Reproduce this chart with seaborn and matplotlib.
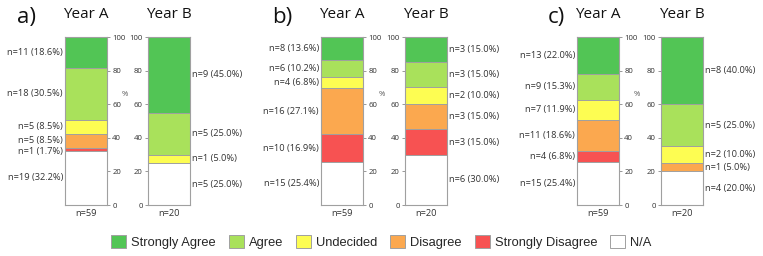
import matplotlib
matplotlib.use("Agg")
import matplotlib.pyplot as plt
import matplotlib.patches as mpatches
import matplotlib.transforms as mtransforms
import seaborn as sns

# ------------------------- DATA -------------------------
categories = ["Strongly Agree", "Agree", "Undecided", "Disagree", "Strongly Disagree", "N/A"]
colors = ["#52c555", "#a9e15b", "#fdfd52", "#fba84f", "#f75252", "#ffffff"]

panel_names = ["a)", "b)", "c)"]
year_names = ["Year A", "Year B"]

# counts per category (same order as categories)
a_year_a = [11, 18, 5, 5, 1, 19]
a_year_b = [9, 5, 1, 0, 0, 5]
b_year_a = [8, 6, 4, 16, 10, 15]
b_year_b = [3, 3, 2, 3, 3, 6]
c_year_a = [13, 9, 7, 11, 4, 15]
c_year_b = [8, 5, 2, 1, 0, 4]

counts = [[a_year_a, a_year_b], [b_year_a, b_year_b], [c_year_a, c_year_b]]

# ------------------------- LAYOUT -------------------------
W, H = 763, 256
bar_left_px = [[65, 148], [321, 405], [577, 661]]
bar_w_px = 42
bar_top_px, bar_bot_px = 37, 205
panel_label_x = [27, 282, 556]
pct_label_x = [125, 382, 637]
min_gap = 6.3  # minimum spacing between segment labels, in %

sns.set_style("white")
plt.rcParams["font.family"] = ["Open Sans", "DejaVu Sans"]

fig = plt.figure(figsize=(W / 100, H / 100), dpi=100)
edge = "#a0a0a0"

for p in range(3):
    for j in range(2):
        vals = counts[p][j]
        n = sum(vals)
        pct = [v / n * 100 for v in vals]
        ax = fig.add_axes([bar_left_px[p][j] / W, 1 - bar_bot_px / H,
                           bar_w_px / W, (bar_bot_px - bar_top_px) / H])
        # stack from the bottom: N/A first, Strongly Agree on top
        order = list(range(len(categories)))[::-1]
        cum = []
        total = 0
        for i in order:
            total += pct[i]
            cum.append((i, total))
        # draw the tallest cumulative bar first so the smaller ones overlay it
        for i, top in cum[::-1]:
            if pct[i] == 0:
                continue
            sns.barplot(x=["bar"], y=[top], color=colors[i], saturation=1,
                        width=1, edgecolor=edge, linewidth=0.7, ax=ax)
        ax.set_xlim(-0.5, 0.5)
        ax.set_ylim(0, 100)
        ax.set_xticks([])
        ax.set_xlabel("")
        ax.set_ylabel("")
        ax.set_yticks([0, 20, 40, 60, 80, 100])
        for s in ax.spines.values():
            s.set_color(edge)
            s.set_linewidth(0.8)
        ax.tick_params(axis="y", length=2.5, width=0.6, color="#888888",
                       labelsize=5.6, labelcolor="#333333", pad=1.2)
        if j == 0:
            ax.yaxis.tick_right()
        else:
            ax.yaxis.tick_left()

        # segment labels, top to bottom, pushed apart if too close
        trans = mtransforms.blended_transform_factory(ax.transAxes, ax.transData)
        prev = None
        for i, top in cum[::-1]:
            if vals[i] == 0:
                continue
            mid = top - pct[i] / 2
            if prev is not None and prev - mid < min_gap:
                mid = prev - min_gap
            prev = mid
            txt = f"n={vals[i]} ({pct[i]:.1f}%)"
            if j == 0:
                ax.text(-0.05, mid, txt, transform=trans, ha="right", va="center",
                        fontsize=6.7, color="#333333")
            else:
                ax.text(1.05, mid, txt, transform=trans, ha="left", va="center",
                        fontsize=6.7, color="#333333")

        ax.text(0.5, 1 + (bar_top_px - 15) / (bar_bot_px - bar_top_px), year_names[j],
                transform=ax.transAxes, ha="center", va="center", fontsize=11,
                color="#111111")
        ax.text(0.5, -(213 - bar_bot_px) / (bar_bot_px - bar_top_px), f"n={n}",
                transform=ax.transAxes, ha="center", va="center", fontsize=6.7,
                color="#333333")

    fig.text(panel_label_x[p] / W, 1 - 17 / H, panel_names[p], ha="center", va="center",
             fontsize=16, color="#111111")
    fig.text(pct_label_x[p] / W, 1 - 95 / H, "%", ha="center", va="center",
             fontsize=5.5, color="#555555")

handles = [mpatches.Patch(facecolor=c, edgecolor=edge, linewidth=0.7, label=l)
           for c, l in zip(colors, categories)]
fig.legend(handles=handles, loc="center", bbox_to_anchor=(0.5, 14 / H), ncol=6,
           frameon=False, handlelength=1.15, handleheight=1.15, handletextpad=0.4,
           columnspacing=1.0, prop={"family": "Liberation Sans", "size": 9.3})

fig.savefig("out.png", dpi=100)
